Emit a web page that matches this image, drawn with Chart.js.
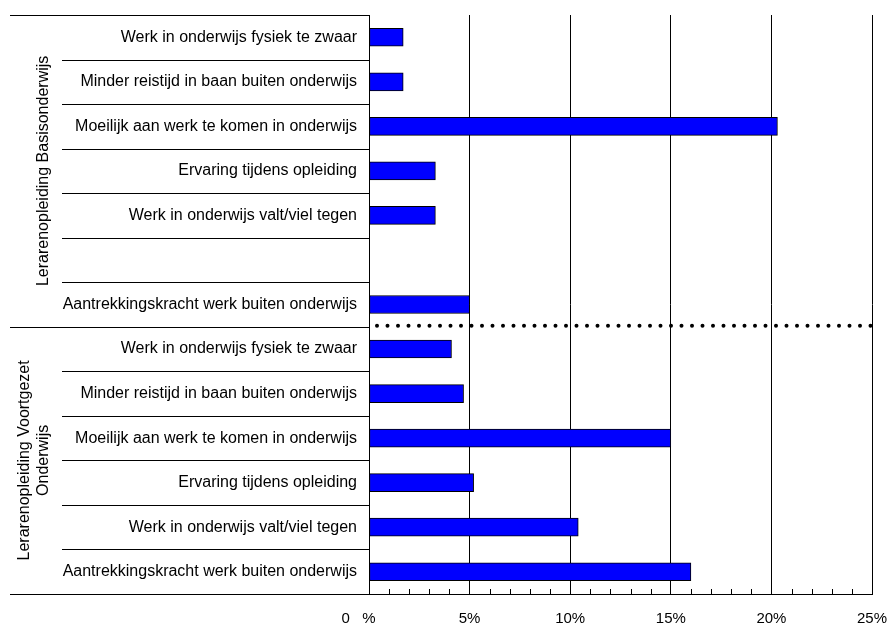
<!DOCTYPE html>
<html>
<head>
<meta charset="utf-8">
<script src="https://cdn.jsdelivr.net/npm/chart.js@4.4.1/dist/chart.umd.min.js"></script>
<style>
  html, body { margin: 0; padding: 0; background: #fff; }
  #wrap { width: 890px; height: 624px; }
</style>
</head>
<body>
<div id="wrap"><canvas id="reasons"></canvas></div>
<script>
const basisLabels = [
  "Werk in onderwijs fysiek te zwaar",
  "Minder reistijd in baan buiten onderwijs",
  "Moeilijk aan werk te komen in onderwijs",
  "Ervaring tijdens opleiding",
  "Werk in onderwijs valt/viel tegen",
  "",
  "Aantrekkingskracht werk buiten onderwijs"
];
const basisValues = [1.7, 1.7, 20.3, 3.3, 3.3, null, 5.0];

const voLabels = [
  "Werk in onderwijs fysiek te zwaar",
  "Minder reistijd in baan buiten onderwijs",
  "Moeilijk aan werk te komen in onderwijs",
  "Ervaring tijdens opleiding",
  "Werk in onderwijs valt/viel tegen",
  "Aantrekkingskracht werk buiten onderwijs"
];
const voValues = [4.1, 4.7, 15.0, 5.2, 10.4, 16.0];

const groupNames = [
  ["Lerarenopleiding Basisonderwijs"],
  ["Lerarenopleiding Voortgezet", "Onderwijs"]
];
const tickLabels = ["0   %     ", "5%", "10%", "15%", "20%", "25%"];

Chart.defaults.font.family = "'Liberation Sans', Arial, sans-serif";
Chart.defaults.color = "#000";

// separators, dotted group line, minor ticks and group titles
const decorations = {
  id: "decorations",
  afterDraw(chart) {
    const ctx = chart.ctx;
    const y = chart.scales.y;
    const x = chart.scales.x;
    const area = chart.chartArea;
    const groupEnds = [0, basisLabels.length, basisLabels.length + voLabels.length];
    const total = basisLabels.length + voLabels.length;

    ctx.save();
    ctx.strokeStyle = "#000";
    ctx.lineWidth = 1;
    for (let i = 0; i <= total; i++) {
      const py = Math.round(y.getPixelForValue(i - 0.5)) + 0.5;
      const startX = groupEnds.includes(i) ? 10 : 62;
      ctx.beginPath();
      ctx.moveTo(startX, py);
      ctx.lineTo(area.left, py);
      ctx.stroke();
    }

    // minor ticks along the bottom
    for (let v = 1; v < 25; v++) {
      if (v % 5 === 0) continue;
      const px = Math.round(x.getPixelForValue(v)) + 0.5;
      ctx.beginPath();
      ctx.moveTo(px, area.bottom);
      ctx.lineTo(px, area.bottom - 5);
      ctx.stroke();
    }

    // dotted line between the groups
    const sepY = y.getPixelForValue(basisLabels.length - 0.5) - 1;
    ctx.lineWidth = 4;
    ctx.lineCap = "round";
    ctx.setLineDash([0, 10.5]);
    ctx.beginPath();
    ctx.moveTo(area.left + 8, sepY);
    ctx.lineTo(area.right, sepY);
    ctx.stroke();
    ctx.setLineDash([]);

    // rotated group titles
    ctx.font = "16px 'Liberation Sans', Arial, sans-serif";
    ctx.fillStyle = "#000";
    ctx.textAlign = "center";
    ctx.textBaseline = "middle";
    groupNames.forEach((lines, g) => {
      const top = y.getPixelForValue(groupEnds[g] - 0.5);
      const bottom = y.getPixelForValue(groupEnds[g + 1] - 0.5);
      const cy = (top + bottom) / 2;
      ctx.save();
      ctx.translate(44, cy);
      ctx.rotate(-Math.PI / 2);
      lines.forEach((line, k) => {
        ctx.fillText(line, 0, (k - (lines.length - 1)) * 19);
      });
      ctx.restore();
    });
    ctx.restore();
  }
};

new Chart(document.getElementById("reasons"), {
  type: "bar",
  data: {
    labels: basisLabels.concat(voLabels),
    datasets: [{
      data: basisValues.concat(voValues),
      backgroundColor: "#0000ff",
      borderColor: "#000",
      borderWidth: 1,
      borderSkipped: false,
      barThickness: 18
    }]
  },
  options: {
    indexAxis: "y",
    responsive: true,
    maintainAspectRatio: false,
    animation: false,
    layout: { padding: { top: 15, right: 18, left: 10, bottom: 0 } },
    plugins: {
      legend: { display: false },
      tooltip: { enabled: false }
    },
    scales: {
      x: {
        min: 0,
        max: 25,
        ticks: {
          stepSize: 5,
          padding: 16,
          maxRotation: 0,
          font: { size: 15 },
          callback: (v, i) => tickLabels[i]
        },
        grid: { color: "#000", lineWidth: 1, drawTicks: false },
        border: { display: true, color: "#000", width: 1 },
        afterFit(scale) {
          scale.height = 30;
          scale.paddingLeft = 0;
          scale.paddingRight = 0;
        }
      },
      y: {
        ticks: {
          padding: 12,
          autoSkip: false,
          font: { size: 16 }
        },
        grid: { display: false, drawTicks: false },
        border: { display: true, color: "#000", width: 1 },
        afterFit(scale) {
          scale.width = 359;
          scale.paddingTop = 0;
          scale.paddingBottom = 0;
        }
      }
    }
  },
  plugins: [decorations]
});
</script>
</body>
</html>
